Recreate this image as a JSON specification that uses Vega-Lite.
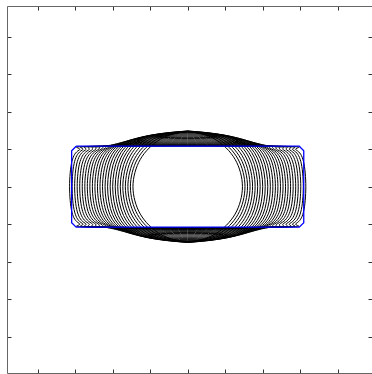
{
"$schema": "https://vega.github.io/schema/vega-lite/v6.json",
"width": 365, "height": 367,
"autosize": {"type": "none"},
"padding": {"left": 7, "top": 6, "right": 0, "bottom": 1},
"background": "white",
"config": {"view": {"stroke": null}, "axis": {"grid": false, "labels": false, "title": null, "tickSize": -4, "tickColor": "#333333", "domainColor": "#666666", "values": [-4,-3,-2,-1,0,1,2,3,4]}},
"layer": [
{"data": {"values": [
{"c":0,"o":0,"x":1.46,"y":0},{"c":0,"o":1,"x":1.264,"y":0.73},{"c":0,"o":2,"x":0.73,"y":1.264},{"c":0,"o":3,"x":0,"y":1.46},{"c":0,"o":5,"x":-0.73,"y":1.264},{"c":0,"o":6,"x":-1.264,"y":0.73},{"c":0,"o":7,"x":-1.46,"y":0},{"c":0,"o":8,"x":-1.264,"y":-0.73},{"c":0,"o":9,"x":-0.73,"y":-1.264},{"c":0,"o":10,"x":0,"y":-1.46},{"c":0,"o":12,"x":0.73,"y":-1.264},{"c":0,"o":13,"x":1.264,"y":-0.73},
{"c":1,"o":0,"x":1.528,"y":0},{"c":1,"o":1,"x":1.34,"y":0.74},{"c":1,"o":2,"x":0.823,"y":1.268},{"c":1,"o":3,"x":0.098,"y":1.46},{"c":1,"o":4,"x":-0.098,"y":1.46},{"c":1,"o":5,"x":-0.823,"y":1.268},{"c":1,"o":6,"x":-1.34,"y":0.74},{"c":1,"o":7,"x":-1.528,"y":0},{"c":1,"o":8,"x":-1.34,"y":-0.74},{"c":1,"o":9,"x":-0.823,"y":-1.268},{"c":1,"o":10,"x":-0.098,"y":-1.46},{"c":1,"o":11,"x":0.098,"y":-1.46},{"c":1,"o":12,"x":0.823,"y":-1.268},{"c":1,"o":13,"x":1.34,"y":-0.74},
{"c":2,"o":0,"x":1.595,"y":0},{"c":2,"o":1,"x":1.414,"y":0.75},{"c":2,"o":2,"x":0.914,"y":1.271},{"c":2,"o":3,"x":0.196,"y":1.46},{"c":2,"o":4,"x":-0.196,"y":1.46},{"c":2,"o":5,"x":-0.914,"y":1.271},{"c":2,"o":6,"x":-1.414,"y":0.75},{"c":2,"o":7,"x":-1.595,"y":0},{"c":2,"o":8,"x":-1.414,"y":-0.75},{"c":2,"o":9,"x":-0.914,"y":-1.271},{"c":2,"o":10,"x":-0.196,"y":-1.46},{"c":2,"o":11,"x":0.196,"y":-1.46},{"c":2,"o":12,"x":0.914,"y":-1.271},{"c":2,"o":13,"x":1.414,"y":-0.75},
{"c":3,"o":0,"x":1.663,"y":0},{"c":3,"o":1,"x":1.489,"y":0.759},{"c":3,"o":2,"x":1.006,"y":1.274},{"c":3,"o":3,"x":0.294,"y":1.459},{"c":3,"o":4,"x":-0.294,"y":1.459},{"c":3,"o":5,"x":-1.006,"y":1.274},{"c":3,"o":6,"x":-1.489,"y":0.759},{"c":3,"o":7,"x":-1.663,"y":0},{"c":3,"o":8,"x":-1.489,"y":-0.759},{"c":3,"o":9,"x":-1.006,"y":-1.274},{"c":3,"o":10,"x":-0.294,"y":-1.459},{"c":3,"o":11,"x":0.294,"y":-1.459},{"c":3,"o":12,"x":1.006,"y":-1.274},{"c":3,"o":13,"x":1.489,"y":-0.759},
{"c":4,"o":0,"x":1.73,"y":0},{"c":4,"o":1,"x":1.564,"y":0.765},{"c":4,"o":2,"x":1.096,"y":1.273},{"c":4,"o":3,"x":0.392,"y":1.454},{"c":4,"o":4,"x":-0.392,"y":1.454},{"c":4,"o":5,"x":-1.096,"y":1.273},{"c":4,"o":6,"x":-1.564,"y":0.765},{"c":4,"o":7,"x":-1.73,"y":0},{"c":4,"o":8,"x":-1.564,"y":-0.765},{"c":4,"o":9,"x":-1.096,"y":-1.273},{"c":4,"o":10,"x":-0.392,"y":-1.454},{"c":4,"o":11,"x":0.392,"y":-1.454},{"c":4,"o":12,"x":1.096,"y":-1.273},{"c":4,"o":13,"x":1.564,"y":-0.765},
{"c":5,"o":0,"x":1.798,"y":0},{"c":5,"o":1,"x":1.638,"y":0.769},{"c":5,"o":2,"x":1.187,"y":1.267},{"c":5,"o":3,"x":0.49,"y":1.444},{"c":5,"o":4,"x":-0.49,"y":1.444},{"c":5,"o":5,"x":-1.187,"y":1.267},{"c":5,"o":6,"x":-1.638,"y":0.769},{"c":5,"o":7,"x":-1.798,"y":0},{"c":5,"o":8,"x":-1.638,"y":-0.769},{"c":5,"o":9,"x":-1.187,"y":-1.267},{"c":5,"o":10,"x":-0.49,"y":-1.444},{"c":5,"o":11,"x":0.49,"y":-1.444},{"c":5,"o":12,"x":1.187,"y":-1.267},{"c":5,"o":13,"x":1.638,"y":-0.769},
{"c":6,"o":0,"x":1.866,"y":0},{"c":6,"o":1,"x":1.712,"y":0.769},{"c":6,"o":2,"x":1.276,"y":1.256},{"c":6,"o":3,"x":0.588,"y":1.428},{"c":6,"o":4,"x":-0.588,"y":1.428},{"c":6,"o":5,"x":-1.276,"y":1.256},{"c":6,"o":6,"x":-1.712,"y":0.769},{"c":6,"o":7,"x":-1.866,"y":0},{"c":6,"o":8,"x":-1.712,"y":-0.769},{"c":6,"o":9,"x":-1.276,"y":-1.256},{"c":6,"o":10,"x":-0.588,"y":-1.428},{"c":6,"o":11,"x":0.588,"y":-1.428},{"c":6,"o":12,"x":1.276,"y":-1.256},{"c":6,"o":13,"x":1.712,"y":-0.769},
{"c":7,"o":0,"x":1.933,"y":0},{"c":7,"o":1,"x":1.785,"y":0.767},{"c":7,"o":2,"x":1.365,"y":1.242},{"c":7,"o":3,"x":0.686,"y":1.409},{"c":7,"o":4,"x":-0.686,"y":1.409},{"c":7,"o":5,"x":-1.365,"y":1.242},{"c":7,"o":6,"x":-1.785,"y":0.767},{"c":7,"o":7,"x":-1.933,"y":0},{"c":7,"o":8,"x":-1.785,"y":-0.767},{"c":7,"o":9,"x":-1.365,"y":-1.242},{"c":7,"o":10,"x":-0.686,"y":-1.409},{"c":7,"o":11,"x":0.686,"y":-1.409},{"c":7,"o":12,"x":1.365,"y":-1.242},{"c":7,"o":13,"x":1.785,"y":-0.767},
{"c":8,"o":0,"x":2.001,"y":0},{"c":8,"o":1,"x":1.859,"y":0.762},{"c":8,"o":2,"x":1.453,"y":1.223},{"c":8,"o":3,"x":0.784,"y":1.385},{"c":8,"o":4,"x":-0.784,"y":1.385},{"c":8,"o":5,"x":-1.453,"y":1.223},{"c":8,"o":6,"x":-1.859,"y":0.762},{"c":8,"o":7,"x":-2.001,"y":0},{"c":8,"o":8,"x":-1.859,"y":-0.762},{"c":8,"o":9,"x":-1.453,"y":-1.223},{"c":8,"o":10,"x":-0.784,"y":-1.385},{"c":8,"o":11,"x":0.784,"y":-1.385},{"c":8,"o":12,"x":1.453,"y":-1.223},{"c":8,"o":13,"x":1.859,"y":-0.762},
{"c":9,"o":0,"x":2.068,"y":0},{"c":9,"o":1,"x":1.932,"y":0.755},{"c":9,"o":2,"x":1.541,"y":1.202},{"c":9,"o":3,"x":0.882,"y":1.358},{"c":9,"o":4,"x":-0.882,"y":1.358},{"c":9,"o":5,"x":-1.541,"y":1.202},{"c":9,"o":6,"x":-1.932,"y":0.755},{"c":9,"o":7,"x":-2.068,"y":0},{"c":9,"o":8,"x":-1.932,"y":-0.755},{"c":9,"o":9,"x":-1.541,"y":-1.202},{"c":9,"o":10,"x":-0.882,"y":-1.358},{"c":9,"o":11,"x":0.882,"y":-1.358},{"c":9,"o":12,"x":1.541,"y":-1.202},{"c":9,"o":13,"x":1.932,"y":-0.755},
{"c":10,"o":0,"x":2.136,"y":0},{"c":10,"o":1,"x":2.005,"y":0.746},{"c":10,"o":2,"x":1.629,"y":1.179},{"c":10,"o":3,"x":0.98,"y":1.329},{"c":10,"o":4,"x":-0.98,"y":1.329},{"c":10,"o":5,"x":-1.629,"y":1.179},{"c":10,"o":6,"x":-2.005,"y":0.746},{"c":10,"o":7,"x":-2.136,"y":0},{"c":10,"o":8,"x":-2.005,"y":-0.746},{"c":10,"o":9,"x":-1.629,"y":-1.179},{"c":10,"o":10,"x":-0.98,"y":-1.329},{"c":10,"o":11,"x":0.98,"y":-1.329},{"c":10,"o":12,"x":1.629,"y":-1.179},{"c":10,"o":13,"x":2.005,"y":-0.746},
{"c":11,"o":0,"x":2.204,"y":0},{"c":11,"o":1,"x":2.078,"y":0.735},{"c":11,"o":2,"x":1.716,"y":1.154},{"c":11,"o":3,"x":1.078,"y":1.298},{"c":11,"o":4,"x":-1.078,"y":1.298},{"c":11,"o":5,"x":-1.716,"y":1.154},{"c":11,"o":6,"x":-2.078,"y":0.735},{"c":11,"o":7,"x":-2.204,"y":0},{"c":11,"o":8,"x":-2.078,"y":-0.735},{"c":11,"o":9,"x":-1.716,"y":-1.154},{"c":11,"o":10,"x":-1.078,"y":-1.298},{"c":11,"o":11,"x":1.078,"y":-1.298},{"c":11,"o":12,"x":1.716,"y":-1.154},{"c":11,"o":13,"x":2.078,"y":-0.735},
{"c":12,"o":0,"x":2.271,"y":0},{"c":12,"o":1,"x":2.151,"y":0.724},{"c":12,"o":2,"x":1.802,"y":1.127},{"c":12,"o":3,"x":1.176,"y":1.266},{"c":12,"o":4,"x":-1.176,"y":1.266},{"c":12,"o":5,"x":-1.802,"y":1.127},{"c":12,"o":6,"x":-2.151,"y":0.724},{"c":12,"o":7,"x":-2.271,"y":0},{"c":12,"o":8,"x":-2.151,"y":-0.724},{"c":12,"o":9,"x":-1.802,"y":-1.127},{"c":12,"o":10,"x":-1.176,"y":-1.266},{"c":12,"o":11,"x":1.176,"y":-1.266},{"c":12,"o":12,"x":1.802,"y":-1.127},{"c":12,"o":13,"x":2.151,"y":-0.724},
{"c":13,"o":0,"x":2.339,"y":0},{"c":13,"o":1,"x":2.224,"y":0.712},{"c":13,"o":2,"x":1.888,"y":1.101},{"c":13,"o":3,"x":1.274,"y":1.234},{"c":13,"o":4,"x":-1.274,"y":1.234},{"c":13,"o":5,"x":-1.888,"y":1.101},{"c":13,"o":6,"x":-2.224,"y":0.712},{"c":13,"o":7,"x":-2.339,"y":0},{"c":13,"o":8,"x":-2.224,"y":-0.712},{"c":13,"o":9,"x":-1.888,"y":-1.101},{"c":13,"o":10,"x":-1.274,"y":-1.234},{"c":13,"o":11,"x":1.274,"y":-1.234},{"c":13,"o":12,"x":1.888,"y":-1.101},{"c":13,"o":13,"x":2.224,"y":-0.712},
{"c":14,"o":0,"x":2.406,"y":0},{"c":14,"o":1,"x":2.296,"y":0.701},{"c":14,"o":2,"x":1.974,"y":1.076},{"c":14,"o":3,"x":1.372,"y":1.204},{"c":14,"o":4,"x":-1.372,"y":1.204},{"c":14,"o":5,"x":-1.974,"y":1.076},{"c":14,"o":6,"x":-2.296,"y":0.701},{"c":14,"o":7,"x":-2.406,"y":0},{"c":14,"o":8,"x":-2.296,"y":-0.701},{"c":14,"o":9,"x":-1.974,"y":-1.076},{"c":14,"o":10,"x":-1.372,"y":-1.204},{"c":14,"o":11,"x":1.372,"y":-1.204},{"c":14,"o":12,"x":1.974,"y":-1.076},{"c":14,"o":13,"x":2.296,"y":-0.701},
{"c":15,"o":0,"x":2.474,"y":0},{"c":15,"o":1,"x":2.369,"y":0.689},{"c":15,"o":2,"x":2.059,"y":1.052},{"c":15,"o":3,"x":1.47,"y":1.175},{"c":15,"o":4,"x":-1.47,"y":1.175},{"c":15,"o":5,"x":-2.059,"y":1.052},{"c":15,"o":6,"x":-2.369,"y":0.689},{"c":15,"o":7,"x":-2.474,"y":0},{"c":15,"o":8,"x":-2.369,"y":-0.689},{"c":15,"o":9,"x":-2.059,"y":-1.052},{"c":15,"o":10,"x":-1.47,"y":-1.175},{"c":15,"o":11,"x":1.47,"y":-1.175},{"c":15,"o":12,"x":2.059,"y":-1.052},{"c":15,"o":13,"x":2.369,"y":-0.689},
{"c":16,"o":0,"x":2.542,"y":0},{"c":16,"o":1,"x":2.441,"y":0.68},{"c":16,"o":2,"x":2.144,"y":1.03},{"c":16,"o":3,"x":1.568,"y":1.149},{"c":16,"o":4,"x":-1.568,"y":1.149},{"c":16,"o":5,"x":-2.144,"y":1.03},{"c":16,"o":6,"x":-2.441,"y":0.68},{"c":16,"o":7,"x":-2.542,"y":0},{"c":16,"o":8,"x":-2.441,"y":-0.68},{"c":16,"o":9,"x":-2.144,"y":-1.03},{"c":16,"o":10,"x":-1.568,"y":-1.149},{"c":16,"o":11,"x":1.568,"y":-1.149},{"c":16,"o":12,"x":2.144,"y":-1.03},{"c":16,"o":13,"x":2.441,"y":-0.68},
{"c":17,"o":0,"x":2.609,"y":0},{"c":17,"o":1,"x":2.513,"y":0.671},{"c":17,"o":2,"x":2.228,"y":1.011},{"c":17,"o":3,"x":1.666,"y":1.126},{"c":17,"o":4,"x":-1.666,"y":1.126},{"c":17,"o":5,"x":-2.228,"y":1.011},{"c":17,"o":6,"x":-2.513,"y":0.671},{"c":17,"o":7,"x":-2.609,"y":0},{"c":17,"o":8,"x":-2.513,"y":-0.671},{"c":17,"o":9,"x":-2.228,"y":-1.011},{"c":17,"o":10,"x":-1.666,"y":-1.126},{"c":17,"o":11,"x":1.666,"y":-1.126},{"c":17,"o":12,"x":2.228,"y":-1.011},{"c":17,"o":13,"x":2.513,"y":-0.671},
{"c":18,"o":0,"x":2.677,"y":0},{"c":18,"o":1,"x":2.585,"y":0.665},{"c":18,"o":2,"x":2.312,"y":0.996},{"c":18,"o":3,"x":1.764,"y":1.107},{"c":18,"o":4,"x":-1.764,"y":1.107},{"c":18,"o":5,"x":-2.312,"y":0.996},{"c":18,"o":6,"x":-2.585,"y":0.665},{"c":18,"o":7,"x":-2.677,"y":0},{"c":18,"o":8,"x":-2.585,"y":-0.665},{"c":18,"o":9,"x":-2.312,"y":-0.996},{"c":18,"o":10,"x":-1.764,"y":-1.107},{"c":18,"o":11,"x":1.764,"y":-1.107},{"c":18,"o":12,"x":2.312,"y":-0.996},{"c":18,"o":13,"x":2.585,"y":-0.665},
{"c":19,"o":0,"x":2.744,"y":0},{"c":19,"o":1,"x":2.657,"y":0.661},{"c":19,"o":2,"x":2.396,"y":0.985},{"c":19,"o":3,"x":1.862,"y":1.093},{"c":19,"o":4,"x":-1.862,"y":1.093},{"c":19,"o":5,"x":-2.396,"y":0.985},{"c":19,"o":6,"x":-2.657,"y":0.661},{"c":19,"o":7,"x":-2.744,"y":0},{"c":19,"o":8,"x":-2.657,"y":-0.661},{"c":19,"o":9,"x":-2.396,"y":-0.985},{"c":19,"o":10,"x":-1.862,"y":-1.093},{"c":19,"o":11,"x":1.862,"y":-1.093},{"c":19,"o":12,"x":2.396,"y":-0.985},{"c":19,"o":13,"x":2.657,"y":-0.661},
{"c":20,"o":0,"x":2.812,"y":0},{"c":20,"o":1,"x":2.729,"y":0.661},{"c":20,"o":2,"x":2.479,"y":0.978},{"c":20,"o":3,"x":1.96,"y":1.084},{"c":20,"o":4,"x":-1.96,"y":1.084},{"c":20,"o":5,"x":-2.479,"y":0.978},{"c":20,"o":6,"x":-2.729,"y":0.661},{"c":20,"o":7,"x":-2.812,"y":0},{"c":20,"o":8,"x":-2.729,"y":-0.661},{"c":20,"o":9,"x":-2.479,"y":-0.978},{"c":20,"o":10,"x":-1.96,"y":-1.084},{"c":20,"o":11,"x":1.96,"y":-1.084},{"c":20,"o":12,"x":2.479,"y":-0.978},{"c":20,"o":13,"x":2.729,"y":-0.661},
{"c":21,"o":0,"x":2.88,"y":0},{"c":21,"o":1,"x":2.8,"y":0.663},{"c":21,"o":2,"x":2.562,"y":0.976},{"c":21,"o":3,"x":2.058,"y":1.08},{"c":21,"o":4,"x":-2.058,"y":1.08},{"c":21,"o":5,"x":-2.562,"y":0.976},{"c":21,"o":6,"x":-2.8,"y":0.663},{"c":21,"o":7,"x":-2.88,"y":0},{"c":21,"o":8,"x":-2.8,"y":-0.663},{"c":21,"o":9,"x":-2.562,"y":-0.976},{"c":21,"o":10,"x":-2.058,"y":-1.08},{"c":21,"o":11,"x":2.058,"y":-1.08},{"c":21,"o":12,"x":2.562,"y":-0.976},{"c":21,"o":13,"x":2.8,"y":-0.663},
{"c":22,"o":0,"x":2.947,"y":0},{"c":22,"o":1,"x":2.872,"y":0.667},{"c":22,"o":2,"x":2.645,"y":0.977},{"c":22,"o":3,"x":2.156,"y":1.08},{"c":22,"o":4,"x":-2.156,"y":1.08},{"c":22,"o":5,"x":-2.645,"y":0.977},{"c":22,"o":6,"x":-2.872,"y":0.667},{"c":22,"o":7,"x":-2.947,"y":0},{"c":22,"o":8,"x":-2.872,"y":-0.667},{"c":22,"o":9,"x":-2.645,"y":-0.977},{"c":22,"o":10,"x":-2.156,"y":-1.08},{"c":22,"o":11,"x":2.156,"y":-1.08},{"c":22,"o":12,"x":2.645,"y":-0.977},{"c":22,"o":13,"x":2.872,"y":-0.667},
{"c":23,"o":0,"x":3.015,"y":0},{"c":23,"o":1,"x":2.943,"y":0.672},{"c":23,"o":2,"x":2.727,"y":0.979},{"c":23,"o":3,"x":2.254,"y":1.08},{"c":23,"o":4,"x":-2.254,"y":1.08},{"c":23,"o":5,"x":-2.727,"y":0.979},{"c":23,"o":6,"x":-2.943,"y":0.672},{"c":23,"o":7,"x":-3.015,"y":0},{"c":23,"o":8,"x":-2.943,"y":-0.672},{"c":23,"o":9,"x":-2.727,"y":-0.979},{"c":23,"o":10,"x":-2.254,"y":-1.08},{"c":23,"o":11,"x":2.254,"y":-1.08},{"c":23,"o":12,"x":2.727,"y":-0.979},{"c":23,"o":13,"x":2.943,"y":-0.672},
{"c":24,"o":0,"x":3.082,"y":0},{"c":24,"o":1,"x":3.015,"y":0.676},{"c":24,"o":2,"x":2.809,"y":0.98},{"c":24,"o":3,"x":2.352,"y":1.08},{"c":24,"o":4,"x":-2.352,"y":1.08},{"c":24,"o":5,"x":-2.809,"y":0.98},{"c":24,"o":6,"x":-3.015,"y":0.676},{"c":24,"o":7,"x":-3.082,"y":0},{"c":24,"o":8,"x":-3.015,"y":-0.676},{"c":24,"o":9,"x":-2.809,"y":-0.98},{"c":24,"o":10,"x":-2.352,"y":-1.08},{"c":24,"o":11,"x":2.352,"y":-1.08},{"c":24,"o":12,"x":2.809,"y":-0.98},{"c":24,"o":13,"x":3.015,"y":-0.676},
{"c":25,"o":0,"x":3.15,"y":0},{"c":25,"o":1,"x":3.086,"y":0.68},{"c":25,"o":2,"x":2.891,"y":0.981},{"c":25,"o":3,"x":2.45,"y":1.08},{"c":25,"o":4,"x":-2.45,"y":1.08},{"c":25,"o":5,"x":-2.891,"y":0.981},{"c":25,"o":6,"x":-3.086,"y":0.68},{"c":25,"o":7,"x":-3.15,"y":0},{"c":25,"o":8,"x":-3.086,"y":-0.68},{"c":25,"o":9,"x":-2.891,"y":-0.981},{"c":25,"o":10,"x":-2.45,"y":-1.08},{"c":25,"o":11,"x":2.45,"y":-1.08},{"c":25,"o":12,"x":2.891,"y":-0.981},{"c":25,"o":13,"x":3.086,"y":-0.68}
]},
"mark": {"type": "line", "interpolate": "cardinal-closed", "color": "black", "strokeWidth": 1},
"encoding": {
"x": {"field": "x", "type": "quantitative", "scale": {"domain": [-4.819, 4.915], "nice": false, "zero": false}, "axis": {"orient": "bottom"}},
"y": {"field": "y", "type": "quantitative", "scale": {"domain": [-4.968, 4.819], "nice": false, "zero": false}, "axis": {"orient": "left"}},
"detail": {"field": "c", "type": "nominal"},
"order": {"field": "o", "type": "quantitative"}
}},
{"data": {"values": [
{"o":0,"x":-2.975,"y":1.08},{"o":1,"x":2.975,"y":1.08},{"o":2,"x":3.095,"y":0.96},{"o":3,"x":3.095,"y":-0.96},{"o":4,"x":2.975,"y":-1.08},{"o":5,"x":-2.975,"y":-1.08},{"o":6,"x":-3.095,"y":-0.96},{"o":7,"x":-3.095,"y":0.96},{"o":8,"x":-2.975,"y":1.08}
]},
"mark": {"type": "line", "color": "#0000ff", "strokeWidth": 1.3},
"encoding": {
"x": {"field": "x", "type": "quantitative", "axis": {"orient": "top"}},
"y": {"field": "y", "type": "quantitative", "axis": {"orient": "right", "domain": false}},
"order": {"field": "o", "type": "quantitative"}
}}
],
"resolve": {"axis": {"x": "independent", "y": "independent"}}
}
